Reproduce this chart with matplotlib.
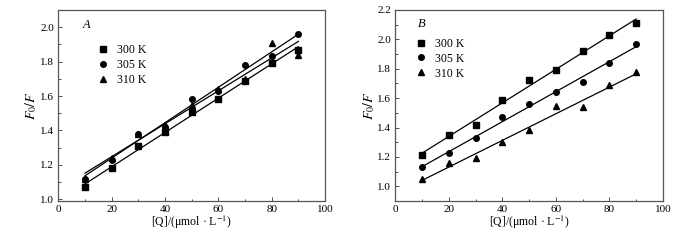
"""Stern-Volmer plots, panels A and B."""

import matplotlib

matplotlib.use("Agg")
import matplotlib.pyplot as plt
import numpy as np
from matplotlib.ticker import FormatStrFormatter, MultipleLocator

plt.rcParams["font.family"] = ["Liberation Serif", "DejaVu Serif"]
plt.rcParams["mathtext.fontset"] = "stix"

conc = [10, 20, 30, 40, 50, 60, 70, 80, 90]
temps = ["300 K", "305 K", "310 K"]
markers = ["s", "o", "^"]

a_300 = [1.07, 1.18, 1.31, 1.39, 1.51, 1.58, 1.69, 1.79, 1.87]
a_305 = [1.12, 1.23, 1.38, 1.42, 1.58, 1.63, 1.78, 1.83, 1.96]
a_310 = [1.12, 1.24, 1.38, 1.43, 1.55, 1.64, 1.70, 1.91, 1.84]

b_300 = [1.21, 1.35, 1.42, 1.59, 1.72, 1.79, 1.92, 2.03, 2.11]
b_305 = [1.13, 1.23, 1.33, 1.47, 1.56, 1.64, 1.71, 1.84, 1.97]
b_310 = [1.05, 1.16, 1.19, 1.30, 1.38, 1.545, 1.54, 1.69, 1.775]

# name, series, ylim, last y tick, label pos, legend anchor
PANELS = [
    ("A", [a_300, a_305, a_310], (0.99, 2.1), 2.0, (0.09, 0.92), (0.15, 0.82)),
    ("B", [b_300, b_305, b_310], (0.9, 2.2), 2.2, (0.085, 0.925), (0.077, 0.855)),
]
POSITIONS = [[0.0833, 0.1625, 0.381, 0.796], [0.565, 0.1625, 0.382, 0.796]]

fig = plt.figure(figsize=(7, 2.4), dpi=100)
fig.patch.set_facecolor("#ffffff")

for (name, series, ylim, ytop, label_xy, leg_xy), pos in zip(PANELS, POSITIONS):
    ax = fig.add_axes(pos)
    x = np.array(conc, dtype=float)
    handles = []
    for ys, marker, label in zip(series, markers, temps):
        (h,) = ax.plot(x, ys, linestyle="none", marker=marker, markersize=4,
                       color="#000000", label=label)
        handles.append(h)
        slope, icpt = np.polyfit(x, ys, 1)
        ax.plot([x[0], x[-1]], [icpt + slope * x[0], icpt + slope * x[-1]],
                color="#000000", linewidth=0.9)

    ax.set_xlim(0, 100)
    ax.set_ylim(*ylim)
    ax.xaxis.set_major_locator(MultipleLocator(20))
    ax.xaxis.set_minor_locator(MultipleLocator(10))
    ax.yaxis.set_minor_locator(MultipleLocator(0.1))
    ax.set_yticks(np.arange(1.0, ytop + 0.01, 0.2))
    ax.yaxis.set_major_formatter(FormatStrFormatter("%.1f"))
    ax.tick_params(which="both", direction="in", top=False, right=False,
                   labelsize=8, colors="#333333", labelcolor="#000000")
    ax.tick_params(which="major", length=3, width=0.6, pad=3)
    ax.tick_params(which="minor", length=1.8, width=0.6)
    for spine in ax.spines.values():
        spine.set_color("#555555")
        spine.set_linewidth(0.9)

    ax.set_xlabel("[Q]/(μmol · L$^{-1}$)", fontsize=8.5, labelpad=0)
    ax.set_ylabel("$F_0/F$", fontsize=10, labelpad=0.5)
    ax.text(*label_xy, name, transform=ax.transAxes, fontsize=9,
            fontstyle="italic", va="center", ha="left")
    ax.legend(handles=handles, loc="upper left", bbox_to_anchor=leg_xy,
              frameon=False, fontsize=8.5, handlelength=0.8, handletextpad=0.8,
              labelspacing=0.25, borderpad=0.0, borderaxespad=0.0)

fig.savefig("out.png", dpi=100, facecolor=fig.get_facecolor())
plt.close(fig)
